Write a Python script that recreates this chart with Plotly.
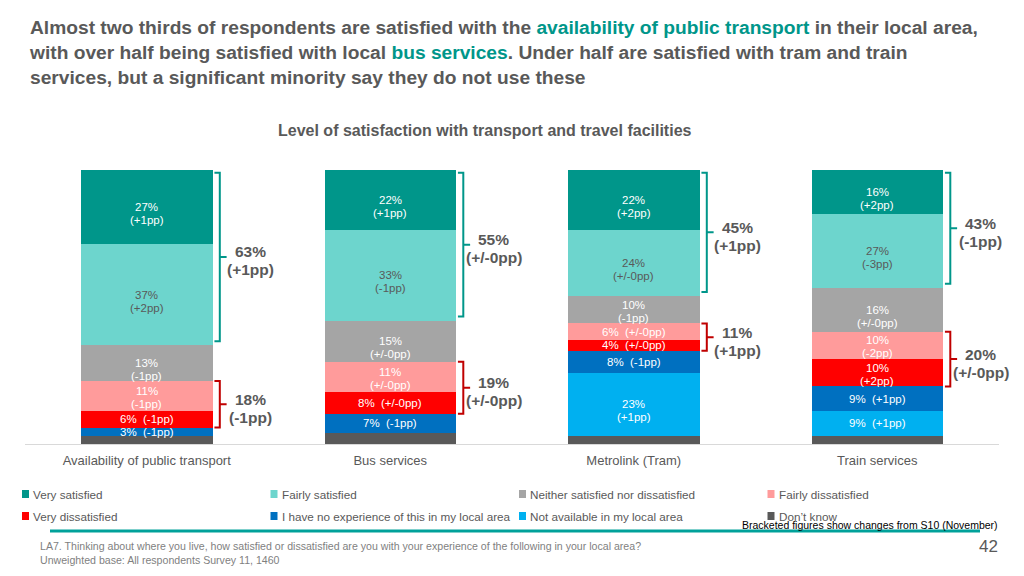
import plotly.graph_objects as go

# ---------------- data ----------------
categories = ["Availability of public transport", "Bus services", "Metrolink (Tram)", "Train services"]

series_names = [
    "Very satisfied",
    "Fairly satisfied",
    "Neither satisfied nor dissatisfied",
    "Fairly dissatisfied",
    "Very dissatisfied",
    "I have no experience of this in my local area",
    "Not available in my local area",
    "Don\u2019t know",
]

very_satisfied = [27, 22, 22, 16]
fairly_satisfied = [37, 33, 24, 27]
neither = [13, 15, 10, 16]
fairly_dissatisfied = [11, 11, 6, 10]
very_dissatisfied = [6, 8, 4, 10]
no_experience = [3, 7, 8, 9]
not_available = [0, 0, 23, 9]
dont_know = [3, 4, 3, 3]

very_satisfied_chg = ["(+1pp)", "(+1pp)", "(+2pp)", "(+2pp)"]
fairly_satisfied_chg = ["(+2pp)", "(-1pp)", "(+/-0pp)", "(-3pp)"]
neither_chg = ["(-1pp)", "(+/-0pp)", "(-1pp)", "(+/-0pp)"]
fairly_dissatisfied_chg = ["(-1pp)", "(+/-0pp)", "(+/-0pp)", "(-2pp)"]
very_dissatisfied_chg = ["(-1pp)", "(+/-0pp)", "(+/-0pp)", "(+2pp)"]
no_experience_chg = ["(-1pp)", "(-1pp)", "(-1pp)", "(+1pp)"]
not_available_chg = ["", "", "(+1pp)", "(+1pp)"]
dont_know_chg = ["", "", "", ""]

net_satisfied = [63, 55, 45, 43]
net_satisfied_chg = ["(+1pp)", "(+/-0pp)", "(+1pp)", "(-1pp)"]
net_dissatisfied = [18, 19, 11, 20]
net_dissatisfied_chg = ["(-1pp)", "(+/-0pp)", "(+1pp)", "(+/-0pp)"]

# ---------------- styling ----------------
colors = ["#00968A", "#6DD5CD", "#A5A5A5", "#FF9B9B", "#FF0000", "#0070C0", "#00B0F0", "#595959"]
label_colors = ["white", "#595959", "white", "white", "white", "white", "white", "white"]
values = [very_satisfied, fairly_satisfied, neither, fairly_dissatisfied,
          very_dissatisfied, no_experience, not_available, dont_know]
changes = [very_satisfied_chg, fairly_satisfied_chg, neither_chg, fairly_dissatisfied_chg,
           very_dissatisfied_chg, no_experience_chg, not_available_chg, dont_know_chg]

FONT = "Liberation Sans, Arial, sans-serif"
GREY = "#595959"
TEAL = "#00968A"
RED = "#C00000"

# page pixel geometry (page body has an 8px margin)
OFF = 8
W, H = 1024 - 2 * OFF, 576 - 2 * OFF
L, R, T, B = 25, 999, 170, 444


def px_x(p):
    return (p - L) / (R - L)


def px_y(p):
    return (B - p) / (B - T)


x_idx = list(range(len(categories)))
bar_width = 0.54

fig = go.Figure()
# stack from bottom (Don't know) to top (Very satisfied)
for k in reversed(range(len(series_names))):
    fig.add_trace(go.Bar(
        x=x_idx, y=values[k], name=series_names[k],
        marker=dict(color=colors[k], line=dict(width=0)),
        width=bar_width, showlegend=False, hoverinfo="skip",
    ))

annotations = []
shapes = []


def seg_label(x, y, text, color, yshift):
    annotations.append(dict(
        x=x, y=y, xref="x", yref="y", text=text, showarrow=False, yshift=yshift,
        font=dict(family=FONT, size=11.5, color=color),
        xanchor="center", yanchor="middle", align="center",
    ))


# segment labels
for i in x_idx:
    base = 0
    for k in reversed(range(len(series_names))):
        v = values[k][i]
        if v > 0 and changes[k][i]:
            ym = base + v / 2
            if v < 10:
                seg_label(i, ym, f"{v}%  {changes[k][i]}", label_colors[k], 0)
            else:
                s = 0 if v >= 13 else 5
                seg_label(i, ym, f"{v}%", label_colors[k], s)
                seg_label(i, ym, changes[k][i], label_colors[k], s - 13)
        base += v

# brackets
half = bar_width / 2
for i in x_idx:
    total = sum(values[k][i] for k in range(len(series_names)))
    below_neither = sum(values[k][i] for k in range(3, len(series_names)))
    sat_top = total - 1
    sat_bot = below_neither + neither[i] + 1.5
    dis_top = below_neither
    dis_bot = below_neither - fairly_dissatisfied[i] - very_dissatisfied[i]
    xb = i + half + 0.03
    for (yt, yb, col, v, chg) in [
        (sat_top, sat_bot, TEAL, net_satisfied[i], net_satisfied_chg[i]),
        (dis_top, dis_bot, RED, net_dissatisfied[i], net_dissatisfied_chg[i]),
    ]:
        ym = (yt + yb) / 2
        path = (f"M {xb - 0.022},{yt} L {xb},{yt} L {xb},{yb} L {xb - 0.022},{yb} "
                f"M {xb},{ym} L {xb + 0.028},{ym}")
        shapes.append(dict(type="path", path=path, xref="x", yref="y",
                           line=dict(color=col, width=2)))
        for txt, ys in [(f"<b>{v}%</b>", 5), (f"<b>{chg}</b>", -13)]:
            annotations.append(dict(
                x=i + half + 0.155, y=ym, xref="x", yref="y", yshift=ys,
                text=txt, showarrow=False,
                font=dict(family=FONT, size=15.5, color=GREY),
                xanchor="center", yanchor="middle", align="center",
            ))

# title
title_text = ("<b>Almost two thirds of respondents are satisfied with the "
              f"<span style='color:{TEAL}'>availability of public transport</span> in their local area,<br>"
              f"with over half being satisfied with local <span style='color:{TEAL}'>bus services</span>. "
              "Under half are satisfied with tram and train<br>"
              "services, but a significant minority say they do not use these</b>")
annotations.append(dict(
    x=px_x(27), y=px_y(15), xref="paper", yref="paper", text=title_text, showarrow=False,
    xanchor="left", yanchor="top", align="left",
    font=dict(family=FONT, size=19.2, color=GREY),
))
annotations.append(dict(
    x=px_x(485), y=px_y(131), xref="paper", yref="paper",
    text="<b>Level of satisfaction with transport and travel facilities</b>", showarrow=False,
    xanchor="center", yanchor="middle", font=dict(family=FONT, size=16, color=GREY),
))

# manual legend
for k, name in enumerate(series_names):
    row, col = divmod(k, 4)
    sx = 22 + col * 248.5
    sy = 494 + row * 22
    shapes.append(dict(type="rect", xref="paper", yref="paper",
                       x0=px_x(sx), x1=px_x(sx + 7), y0=px_y(sy - 4), y1=px_y(sy + 4),
                       fillcolor=colors[k], line=dict(width=0)))
    annotations.append(dict(
        x=px_x(sx + 9), y=px_y(sy), xref="paper", yref="paper", text=name, showarrow=False,
        xanchor="left", yanchor="middle", font=dict(family=FONT, size=11.7, color=GREY),
    ))

annotations.append(dict(
    x=px_x(1000), y=px_y(525), xref="paper", yref="paper",
    text="Bracketed figures show changes from S10 (November)", showarrow=False,
    xanchor="right", yanchor="middle",
    font=dict(family=FONT, size=10.5, color="black"),
))

# footer line
shapes.append(dict(type="line", xref="paper", yref="paper",
                   x0=px_x(50), x1=px_x(980), y0=px_y(531), y1=px_y(531),
                   line=dict(color="#00A19A", width=3)))
annotations.append(dict(
    x=px_x(38), y=px_y(546), xref="paper", yref="paper",
    text="LA7. Thinking about where you live, how satisfied or dissatisfied are you with your experience of the following in your local area?",
    showarrow=False, xanchor="left", yanchor="middle",
    font=dict(family=FONT, size=10.6, color="#7F7F7F"),
))
annotations.append(dict(
    x=px_x(38), y=px_y(560), xref="paper", yref="paper",
    text="Unweighted base: All respondents Survey 11, 1460",
    showarrow=False, xanchor="left", yanchor="middle",
    font=dict(family=FONT, size=10.6, color="#7F7F7F"),
))
annotations.append(dict(
    x=px_x(1000), y=px_y(546), xref="paper", yref="paper", text="42", showarrow=False,
    xanchor="right", yanchor="middle", font=dict(family=FONT, size=17, color=GREY),
))

fig.update_layout(
    width=W, height=H, barmode="stack",
    margin=dict(l=L - OFF, r=(OFF + W) - R, t=T - OFF, b=(OFF + H) - B, pad=0),
    paper_bgcolor="white", plot_bgcolor="white",
    xaxis=dict(range=[-0.5, 3.5], tickmode="array", tickvals=x_idx, ticktext=categories,
               showline=True, linecolor="#D9D9D9", linewidth=1, showgrid=False, zeroline=False,
               ticks="", ticklabelstandoff=4,
               tickfont=dict(family=FONT, size=13, color=GREY), fixedrange=True),
    yaxis=dict(range=[0, 100], visible=False, fixedrange=True),
    annotations=annotations, shapes=shapes,
    font=dict(family=FONT),
)

fig.write_html("out.html")
